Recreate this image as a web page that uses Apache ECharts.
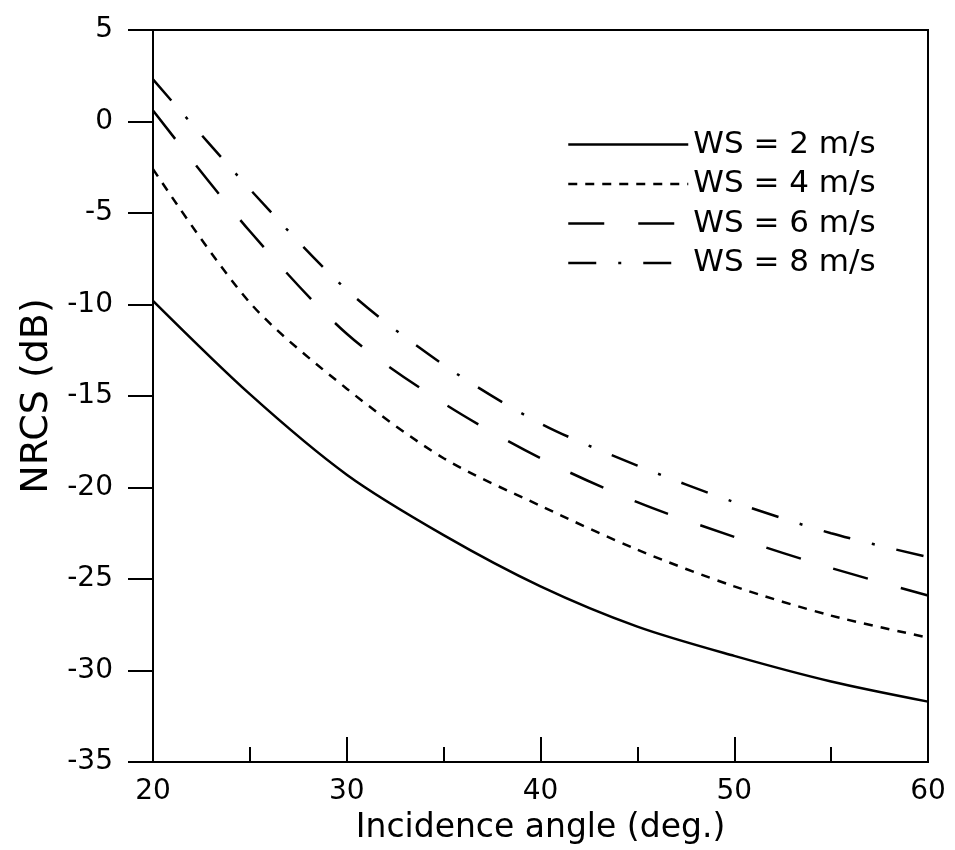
<!DOCTYPE html>
<html>
<head>
<meta charset="utf-8">
<script src="https://cdn.jsdelivr.net/npm/echarts@6/dist/echarts.min.js"></script>
<style>
html,body{margin:0;padding:0;background:#fff;}
#c{width:955px;height:850px;}
</style>
</head>
<body>
<div id="c"></div>
<script>
const angles = [20, 25, 30, 35, 40, 45, 50, 55, 60];
const ws2 = [-9.8, -14.9, -19.3, -22.6, -25.4, -27.6, -29.2, -30.6, -31.7];
const ws4 = [-2.6, -9.9, -14.6, -18.4, -21.0, -23.4, -25.4, -27.0, -28.2];
const ws6 = [0.6, -6.0, -11.6, -15.4, -18.4, -20.8, -22.7, -24.4, -25.9];
const ws8 = [2.3, -3.7, -9.2, -13.3, -16.5, -18.8, -20.8, -22.5, -23.8];
const seriesNames = ['WS = 2 m/s', 'WS = 4 m/s', 'WS = 6 m/s', 'WS = 8 m/s'];
const xTicks = [20, 30, 40, 50, 60];
const yTicks = [-35, -30, -25, -20, -15, -10, -5, 0, 5];

const FONT = 'DejaVu Sans';
const pairs = arr => angles.map((a, i) => [a, arr[i]]);
const dashes = ['solid', [9, 8], [36, 34], [28, 22, 3, 22]];
const allData = [ws2, ws4, ws6, ws8];

const chart = echarts.init(document.getElementById('c'), null, {renderer: 'canvas'});
chart.setOption({
  animation: false,
  backgroundColor: '#fff',
  grid: {left: 153, right: 27, top: 30, bottom: 88, show: true, borderColor: '#000', borderWidth: 2, backgroundColor: 'transparent'},
  legend: {
    orient: 'vertical', left: 567, top: 128, padding: 0,
    itemWidth: 120, itemHeight: 14, itemGap: 6.5,
    data: seriesNames,
    itemStyle: {color: 'rgba(0,0,0,0)', borderWidth: 0, opacity: 0},
    lineStyle: {width: 2.5, color: '#000'},
    textStyle: {fontFamily: FONT, fontSize: 31, color: '#000', lineHeight: 33}
  },
  xAxis: {
    type: 'value', min: xTicks[0], max: xTicks[xTicks.length - 1], interval: 10,
    name: 'Incidence angle (deg.)', nameLocation: 'middle', nameGap: 50,
    nameTextStyle: {fontFamily: FONT, fontSize: 33, color: '#000'},
    axisLine: {onZero: false, lineStyle: {color: '#000', width: 2}},
    axisTick: {inside: true, length: 25, lineStyle: {color: '#000', width: 2}},
    minorTick: {show: true, splitNumber: 2, length: 15, lineStyle: {color: '#000', width: 2}},
    splitLine: {show: false},
    axisLabel: {fontFamily: FONT, fontSize: 28, color: '#000', margin: 16}
  },
  yAxis: {
    type: 'value', min: yTicks[0], max: yTicks[yTicks.length - 1], interval: 5,
    name: 'NRCS (dB)', nameLocation: 'middle', nameGap: 88, nameRotate: 90,
    nameTextStyle: {fontFamily: FONT, fontSize: 38, color: '#000'},
    axisLine: {onZero: false, lineStyle: {color: '#000', width: 2}},
    axisTick: {inside: false, length: 25, lineStyle: {color: '#000', width: 2}},
    splitLine: {show: false},
    axisLabel: {fontFamily: FONT, fontSize: 28, color: '#000', margin: 40}
  },
  series: allData.map((d, i) => ({
    name: seriesNames[i],
    type: 'line',
    data: pairs(d),
    symbol: 'none',
    smooth: 0.3,
    lineStyle: {color: '#000', width: 2.5, type: dashes[i]},
    itemStyle: {color: '#000'}
  }))
});
</script>
</body>
</html>
